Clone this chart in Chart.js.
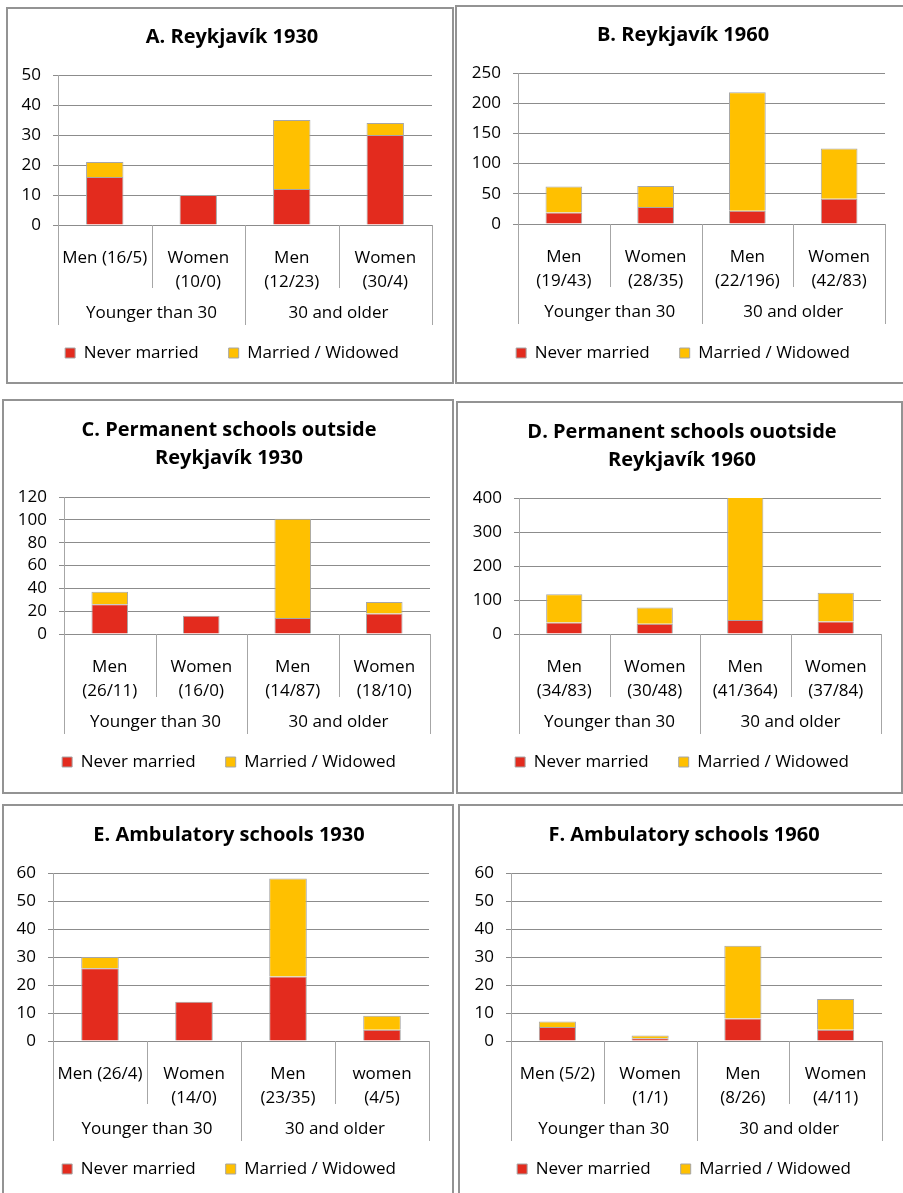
<!DOCTYPE html>
<html>
<head>
<meta charset="utf-8">
<script src="https://cdn.jsdelivr.net/npm/chart.js@4.4.1/dist/chart.umd.min.js"></script>
<style>
  html, body { margin: 0; padding: 0; background: #fff; }
  body { width: 903px; height: 1193px; position: relative; overflow: hidden; }
  .panel { position: absolute; box-sizing: border-box; border: 2px solid #939393; background: #fff; }
  .panel canvas { position: absolute; left: 0; top: 0; }
</style>
</head>
<body>
<div class="panel" id="pA"><canvas id="chartA"></canvas></div>
<div class="panel" id="pB"><canvas id="chartB"></canvas></div>
<div class="panel" id="pC"><canvas id="chartC"></canvas></div>
<div class="panel" id="pD"><canvas id="chartD"></canvas></div>
<div class="panel" id="pE"><canvas id="chartE"></canvas></div>
<div class="panel" id="pF"><canvas id="chartF"></canvas></div>

<script>
// ---- data ----
const seriesNames = ['Never married', 'Married / Widowed'];
const groupLabels = ['Younger than 30', '30 and older'];

// A. Reykjavík 1930
const titleA = 'A. Reykjavík 1930';
const labelsA = [['Men (16/5)'], ['Women', '(10/0)'], ['Men', '(12/23)'], ['Women', '(30/4)']];
const neverA = [16, 10, 12, 30];
const marriedA = [5, 0, 23, 4];
const ticksA = [0, 10, 20, 30, 40, 50];

// B. Reykjavík 1960
const titleB = 'B. Reykjavík 1960';
const labelsB = [['Men', '(19/43)'], ['Women', '(28/35)'], ['Men', '(22/196)'], ['Women', '(42/83)']];
const neverB = [19, 28, 22, 42];
const marriedB = [43, 35, 196, 83];
const ticksB = [0, 50, 100, 150, 200, 250];

// C. Permanent schools outside Reykjavík 1930
const titleC = ['C. Permanent schools outside', 'Reykjavík 1930'];
const labelsC = [['Men', '(26/11)'], ['Women', '(16/0)'], ['Men', '(14/87)'], ['Women', '(18/10)']];
const neverC = [26, 16, 14, 18];
const marriedC = [11, 0, 87, 10];
const ticksC = [0, 20, 40, 60, 80, 100, 120];

// D. Permanent schools outside Reykjavík 1960
const titleD = ['D. Permanent schools ouotside', 'Reykjavík 1960'];
const labelsD = [['Men', '(34/83)'], ['Women', '(30/48)'], ['Men', '(41/364)'], ['Women', '(37/84)']];
const neverD = [34, 30, 41, 37];
const marriedD = [83, 48, 364, 84];
const ticksD = [0, 100, 200, 300, 400];

// E. Ambulatory schools 1930
const titleE = 'E. Ambulatory schools 1930';
const labelsE = [['Men (26/4)'], ['Women', '(14/0)'], ['Men', '(23/35)'], ['women', '(4/5)']];
const neverE = [26, 14, 23, 4];
const marriedE = [4, 0, 35, 5];
const ticksE = [0, 10, 20, 30, 40, 50, 60];

// F. Ambulatory schools 1960
const titleF = 'F. Ambulatory schools 1960';
const labelsF = [['Men (5/2)'], ['Women', '(1/1)'], ['Men', '(8/26)'], ['Women', '(4/11)']];
const neverF = [5, 1, 8, 4];
const marriedF = [2, 1, 26, 11];
const ticksF = [0, 10, 20, 30, 40, 50, 60];

// ---- layout (page pixels) ----
const panelBoxes = {
    A: { left: 6,   top: 7,   width: 448, height: 377 },
    B: { left: 455, top: 5,   width: 460, height: 379 },
    C: { left: 2,   top: 399, width: 452, height: 395 },
    D: { left: 456, top: 401, width: 447, height: 393 },
    E: { left: 2,   top: 804, width: 452, height: 400 },
    F: { left: 458, top: 804, width: 460, height: 400 }
};
const panelGeo = {
    A: { titleY: 37,  plotTop: 75,  plotBottom: 225,  axisX: 58,  plotRight: 432, legendY: 353,  center: 232 },
    B: { titleY: 35,  plotTop: 73,  plotBottom: 224,  axisX: 518, plotRight: 885, legendY: 353,  center: 683 },
    C: { titleY: 430, plotTop: 497, plotBottom: 634,  axisX: 64,  plotRight: 430, legendY: 762,  center: 229 },
    D: { titleY: 432, plotTop: 498, plotBottom: 634,  axisX: 519, plotRight: 881, legendY: 762,  center: 682 },
    E: { titleY: 835, plotTop: 873, plotBottom: 1041, axisX: 53,  plotRight: 429, legendY: 1169, center: 229 },
    F: { titleY: 835, plotTop: 873, plotBottom: 1041, axisX: 511, plotRight: 882, legendY: 1169, center: 684 }
};

const RED = '#e32b1e';
const GOLD = '#ffc000';
const FONT = "'Open Sans', Lato, sans-serif";
const TITLE_SIZE = 20, TITLE_LH = 28;
const TICK_SIZE = 17, TICK_LH = 24;
const LEGEND_SIZE = 17, LEGEND_PAD = 30;

Chart.defaults.font.family = FONT;
Chart.defaults.color = '#000';

// group labels + separators under the category axis
const groupAxisPlugin = {
    id: 'groupAxis',
    afterDraw(chart) {
        const xs = chart.scales.x;
        const area = chart.chartArea;
        const ctx = chart.ctx;
        const n = xs.ticks.length;
        const per = n / groupLabels.length;
        const bounds = [area.left];
        for (let i = 1; i < n; i++) {
            bounds.push((xs.getPixelForTick(i - 1) + xs.getPixelForTick(i)) / 2);
        }
        bounds.push(area.right);

        ctx.save();
        ctx.strokeStyle = '#a6a6a6';
        ctx.lineWidth = 1;
        bounds.forEach((bx, i) => {
            const len = i % per === 0 ? 100 : 63;
            const x = Math.round(bx) + 0.5;
            ctx.beginPath();
            ctx.moveTo(x, xs.top);
            ctx.lineTo(x, xs.top + len);
            ctx.stroke();
        });
        ctx.fillStyle = '#000';
        ctx.font = TICK_SIZE + 'px ' + FONT;
        ctx.textAlign = 'center';
        ctx.textBaseline = 'middle';
        groupLabels.forEach((g, j) => {
            const cx = (bounds[j * per] + bounds[(j + 1) * per]) / 2;
            ctx.fillText(g, cx, xs.top + 88);
        });
        ctx.restore();
    }
};

// move title and legend so they centre where the original put them
const centerBoxesPlugin = {
    id: 'centerBoxes',
    afterLayout(chart, args, opts) {
        [chart.titleBlock, chart.legend].forEach(b => {
            if (!b) return;
            const dx = opts.center - (b.left + b.right) / 2;
            b.left += dx;
            b.right += dx;
        });
    }
};

function buildChart(key, title, labels, never, married, yTicks) {
    const box = panelBoxes[key];
    const geo = panelGeo[key];
    const panel = document.getElementById('p' + key);
    panel.style.left = box.left + 'px';
    panel.style.top = box.top + 'px';
    panel.style.width = box.width + 'px';
    panel.style.height = box.height + 'px';

    const cx0 = box.left + 2, cy0 = box.top + 2;
    const W = box.width - 4, H = box.height - 4;
    const canvas = document.getElementById('chart' + key);
    canvas.width = W;
    canvas.height = H;
    canvas.style.width = W + 'px';
    canvas.style.height = H + 'px';

    const lines = Array.isArray(title) ? title.length : 1;
    const padR = cx0 + W - geo.plotRight;
    const yWidth = geo.axisX - cx0;
    const titleTop = geo.titleY - cy0 - TITLE_LH / 2;
    const titleBottom = geo.plotTop - cy0 - titleTop - lines * TITLE_LH;
    const padB = H - (geo.legendY - cy0) - 10 - LEGEND_SIZE / 2;
    const legendH = LEGEND_SIZE + LEGEND_PAD + 10;
    const xHeight = (H - padB - legendH) - (geo.plotBottom - cy0);

    return new Chart(canvas.getContext('2d'), {
        type: 'bar',
        data: {
            labels: labels,
            datasets: [
                {
                    label: seriesNames[0],
                    data: never,
                    backgroundColor: RED,
                    borderColor: '#a6a6a6',
                    borderWidth: 1,
                    borderSkipped: 'start'
                },
                {
                    label: seriesNames[1],
                    data: married,
                    backgroundColor: GOLD,
                    borderColor: '#a6a6a6',
                    borderWidth: 1,
                    borderSkipped: 'start'
                }
            ]
        },
        options: {
            responsive: false,
            animation: false,
            events: [],
            layout: { padding: { left: 0, right: padR, top: 0, bottom: padB } },
            datasets: { bar: { categoryPercentage: 1, barPercentage: 0.4 } },
            scales: {
                x: {
                    stacked: true,
                    offset: true,
                    grid: { display: false },
                    border: { color: '#8c8c8c' },
                    ticks: {
                        autoSkip: false,
                        maxRotation: 0,
                        padding: 25 - TICK_LH / 2,
                        color: '#000',
                        font: { size: TICK_SIZE, lineHeight: TICK_LH / TICK_SIZE }
                    },
                    afterFit: function(scale) { scale.height = xHeight; }
                },
                y: {
                    stacked: true,
                    min: yTicks[0],
                    max: yTicks[yTicks.length - 1],
                    grid: { color: '#8c8c8c', tickLength: 5, tickColor: '#8c8c8c' },
                    border: { color: '#a6a6a6' },
                    ticks: {
                        autoSkip: false,
                        stepSize: yTicks[1] - yTicks[0],
                        padding: 12,
                        color: '#000',
                        font: { size: TICK_SIZE, lineHeight: 1 }
                    },
                    afterFit: function(scale) { scale.width = yWidth; }
                }
            },
            plugins: {
                title: {
                    display: true,
                    text: title,
                    color: '#000',
                    font: { size: TITLE_SIZE, weight: 'bold', lineHeight: TITLE_LH / TITLE_SIZE },
                    padding: { top: titleTop, bottom: titleBottom }
                },
                legend: {
                    position: 'bottom',
                    labels: {
                        boxWidth: 10,
                        boxHeight: 10,
                        padding: LEGEND_PAD,
                        color: '#000',
                        font: { size: LEGEND_SIZE }
                    }
                },
                tooltip: { enabled: false },
                centerBoxes: { center: geo.center - cx0 }
            }
        },
        plugins: [groupAxisPlugin, centerBoxesPlugin]
    });
}

buildChart('A', titleA, labelsA, neverA, marriedA, ticksA);
buildChart('B', titleB, labelsB, neverB, marriedB, ticksB);
buildChart('C', titleC, labelsC, neverC, marriedC, ticksC);
buildChart('D', titleD, labelsD, neverD, marriedD, ticksD);
buildChart('E', titleE, labelsE, neverE, marriedE, ticksE);
buildChart('F', titleF, labelsF, neverF, marriedF, ticksF);
</script>
</body>
</html>
